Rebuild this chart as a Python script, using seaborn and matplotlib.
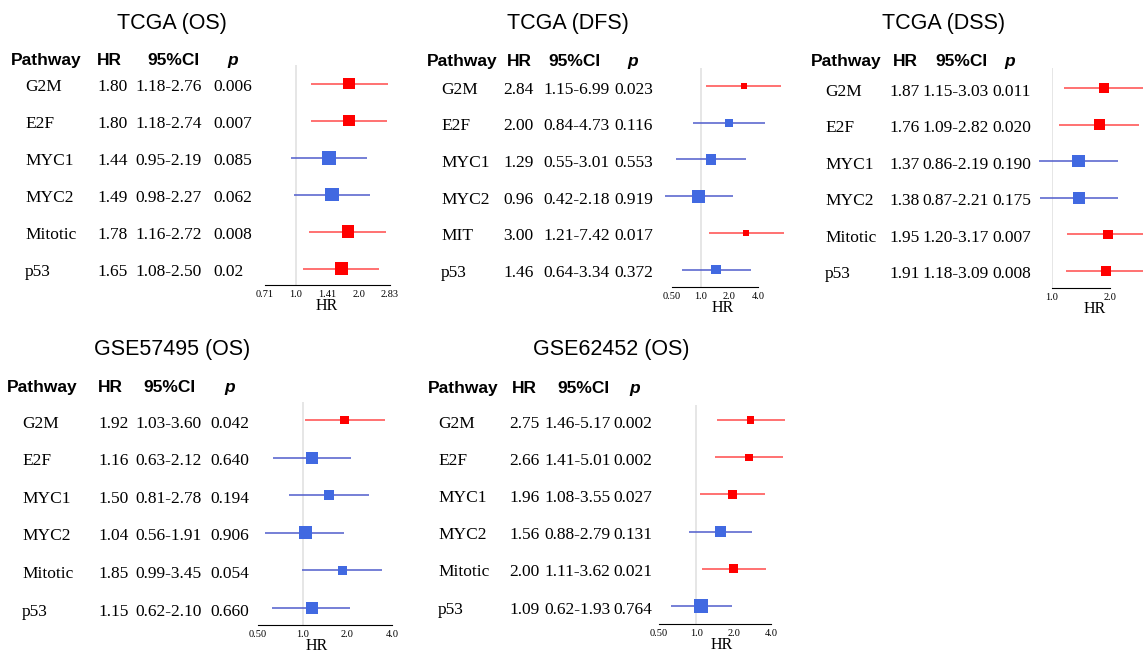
import numpy as np
import pandas as pd
import matplotlib
matplotlib.use("Agg")
import matplotlib.pyplot as plt
from matplotlib.ticker import NullLocator
import seaborn as sns

# ---- data ----
pathways = ["G2M", "E2F", "MYC1", "MYC2", "Mitotic", "p53"]
pathways_dfs = ["G2M", "E2F", "MYC1", "MYC2", "MIT", "p53"]

hr_tcga_os = [1.80, 1.80, 1.44, 1.49, 1.78, 1.65]
lo_tcga_os = [1.18, 1.18, 0.95, 0.98, 1.16, 1.08]
hi_tcga_os = [2.76, 2.74, 2.19, 2.27, 2.72, 2.50]
p_tcga_os = ["0.006", "0.007", "0.085", "0.062", "0.008", "0.02"]

hr_tcga_dfs = [2.84, 2.00, 1.29, 0.96, 3.00, 1.46]
lo_tcga_dfs = [1.15, 0.84, 0.55, 0.42, 1.21, 0.64]
hi_tcga_dfs = [6.99, 4.73, 3.01, 2.18, 7.42, 3.34]
p_tcga_dfs = ["0.023", "0.116", "0.553", "0.919", "0.017", "0.372"]

hr_tcga_dss = [1.87, 1.76, 1.37, 1.38, 1.95, 1.91]
lo_tcga_dss = [1.15, 1.09, 0.86, 0.87, 1.20, 1.18]
hi_tcga_dss = [3.03, 2.82, 2.19, 2.21, 3.17, 3.09]
p_tcga_dss = ["0.011", "0.020", "0.190", "0.175", "0.007", "0.008"]

hr_gse57495 = [1.92, 1.16, 1.50, 1.04, 1.85, 1.15]
lo_gse57495 = [1.03, 0.63, 0.81, 0.56, 0.99, 0.62]
hi_gse57495 = [3.60, 2.12, 2.78, 1.91, 3.45, 2.10]
p_gse57495 = ["0.042", "0.640", "0.194", "0.906", "0.054", "0.660"]

hr_gse62452 = [2.75, 2.66, 1.96, 1.56, 2.00, 1.09]
lo_gse62452 = [1.46, 1.41, 1.08, 0.88, 1.11, 0.62]
hi_gse62452 = [5.17, 5.01, 3.55, 2.79, 3.62, 1.93]
p_gse62452 = ["0.002", "0.002", "0.027", "0.131", "0.021", "0.764"]

ticks_os = [0.71, 1.0, 1.41, 2.0, 2.83]
tick_labels_os = ["0.71", "1.0", "1.41", "2.0", "2.83"]
ticks_wide = [0.5, 1.0, 2.0, 4.0]
tick_labels_wide = ["0.50", "1.0", "2.0", "4.0"]
ticks_dss = [1.0, 2.0]
tick_labels_dss = ["1.0", "2.0"]

panels = [
    ("TCGA (OS)", pathways, hr_tcga_os, lo_tcga_os, hi_tcga_os, p_tcga_os, ticks_os, tick_labels_os),
    ("TCGA (DFS)", pathways_dfs, hr_tcga_dfs, lo_tcga_dfs, hi_tcga_dfs, p_tcga_dfs, ticks_wide, tick_labels_wide),
    ("TCGA (DSS)", pathways, hr_tcga_dss, lo_tcga_dss, hi_tcga_dss, p_tcga_dss, ticks_dss, tick_labels_dss),
    ("GSE57495 (OS)", pathways, hr_gse57495, lo_gse57495, hi_gse57495, p_gse57495, ticks_wide, tick_labels_wide),
    ("GSE62452 (OS)", pathways, hr_gse62452, lo_gse62452, hi_gse62452, p_gse62452, ticks_wide, tick_labels_wide),
]

# ---- layout in pixels (figure is 1143 x 652) ----
layouts = [
    dict(title=(172, 29), head_y=65, head_x=(11, 97, 147, 233), rows=(83.5, 268.5),
         cols=(25, 97, 135, 213), ax_x=(265, 390), axis_y=285, ref_top=65, hr_x=327, box=14),
    dict(title=(568, 29), head_y=66, head_x=(427, 507, 548, 633), rows=(86, 269.5),
         cols=(441, 503, 543, 614), ax_x=(672, 758), axis_y=287, ref_top=68, hr_x=723, box=13),
    dict(title=(944, 29), head_y=66, head_x=(811, 893, 935, 1010), rows=(88, 271),
         cols=(825, 889, 922, 992), ax_x=(1052, 1110), axis_y=288, ref_top=68, hr_x=1095, box=12.5),
    dict(title=(172, 355), head_y=392, head_x=(7, 98, 143, 230), rows=(420, 608),
         cols=(22, 98, 135, 210), ax_x=(258, 392), axis_y=625, ref_top=402, hr_x=317, box=13),
    dict(title=(611, 355), head_y=393, head_x=(428, 512, 557, 635), rows=(420, 606),
         cols=(438, 509, 544, 613), ax_x=(659, 771), axis_y=624, ref_top=405, hr_x=722, box=13.5),
]

W, H = 1143, 652
SANS = ["Liberation Sans", "DejaVu Sans"]
SERIF = ["Liberation Serif", "DejaVu Serif"]
RED, RED_LINE = "#ff0000", "#ff4a4a"
BLUE, BLUE_LINE = "#4169e1", "#4f5ccc"


def fx(px):
    return px / W


def fy(py):
    return 1 - py / H


def draw_panel(fig, panel, lay):
    title, names, hr, lo, hi, pvals, ticks, tick_labels = panel
    df = pd.DataFrame({"name": names, "hr": hr, "lo": lo, "hi": hi, "p": pvals})
    df["idx"] = np.arange(len(df))
    df["sig"] = np.where(df["p"].astype(float) < 0.05, "sig", "ns")
    # box side shrinks with HR (as in the original forest plots)
    w = df["hr"].to_numpy() ** -0.7
    side_px = lay["box"] * w / w.max()
    df["s"] = (side_px * 0.72) ** 2

    r0, r1 = lay["rows"]
    step = (r1 - r0) / (len(df) - 1)
    x0, x1 = lay["ax_x"]
    ax = fig.add_axes([fx(x0), fy(lay["axis_y"]), (x1 - x0) / W,
                       (lay["axis_y"] - lay["ref_top"]) / H])
    ax.patch.set_visible(False)

    ax.axvline(1.0, color="#e2e2e2", lw=1.2, zorder=0)
    line_cols = [RED_LINE if s == "sig" else BLUE_LINE for s in df["sig"]]
    ax.hlines(df["idx"], df["lo"], df["hi"], colors=line_cols, lw=1.1,
              clip_on=False, zorder=2)
    sns.scatterplot(data=df, x="hr", y="idx", hue="sig",
                    palette={"sig": RED, "ns": BLUE}, marker="s",
                    s=df["s"].to_numpy(), edgecolor="none", linewidth=0,
                    legend=False, ax=ax, zorder=3, clip_on=False)

    ax.set_xscale("log")
    ax.set_xlim(ticks[0], ticks[-1])
    ax.set_ylim((lay["axis_y"] - r0) / step, (lay["ref_top"] - r0) / step)
    ax.set_xticks(ticks)
    ax.set_xticklabels(tick_labels, fontsize=7.5, family=SERIF)
    ax.xaxis.set_minor_locator(NullLocator())
    ax.set_yticks([])
    ax.set_xlabel("")
    ax.set_ylabel("")
    ax.tick_params(axis="x", length=2.5, width=0.8, pad=1.2, colors="black")
    sns.despine(ax=ax, left=True)
    ax.spines["bottom"].set_color("black")
    ax.spines["bottom"].set_linewidth(0.8)
    ax.grid(False)

    fig.text(fx(lay["hr_x"]), fy(lay["axis_y"] + 25), "HR", ha="center",
             va="baseline", fontsize=11.5, family=SERIF)

    # title and table header
    fig.text(fx(lay["title"][0]), fy(lay["title"][1]), title, ha="center",
             va="baseline", fontsize=15.5, family=SANS)
    hx = lay["head_x"]
    hy = fy(lay["head_y"])
    hkw = dict(va="baseline", fontsize=12.5, family=SANS, fontweight="bold")
    fig.text(fx(hx[0]), hy, "Pathway", ha="left", **hkw)
    fig.text(fx(hx[1]), hy, "HR", ha="left", **hkw)
    fig.text(fx(hx[2]), hy, "95%CI", ha="left", **hkw)
    fig.text(fx(hx[3]), hy, "p", ha="center", style="italic", **hkw)

    # table rows
    cx = lay["cols"]
    rkw = dict(ha="left", va="baseline", fontsize=12.5, family=SERIF)
    for i, row in df.iterrows():
        y = fy(r0 + i * step + 7.5)
        fig.text(fx(cx[0]), y, row["name"], **rkw)
        fig.text(fx(cx[1]), y, f"{row['hr']:.2f}", **rkw)
        fig.text(fx(cx[2]), y, f"{row['lo']:.2f}-{row['hi']:.2f}", **rkw)
        fig.text(fx(cx[3]), y, row["p"], **rkw)


def main():
    sns.set_style("white")
    plt.rcParams["font.family"] = SANS
    plt.rcParams["text.color"] = "black"
    plt.rcParams["xtick.color"] = "black"
    fig = plt.figure(figsize=(W / 100, H / 100), dpi=100)
    for panel, lay in zip(panels, layouts):
        draw_panel(fig, panel, lay)
    fig.savefig("out.png", dpi=100)


if __name__ == "__main__":
    main()
